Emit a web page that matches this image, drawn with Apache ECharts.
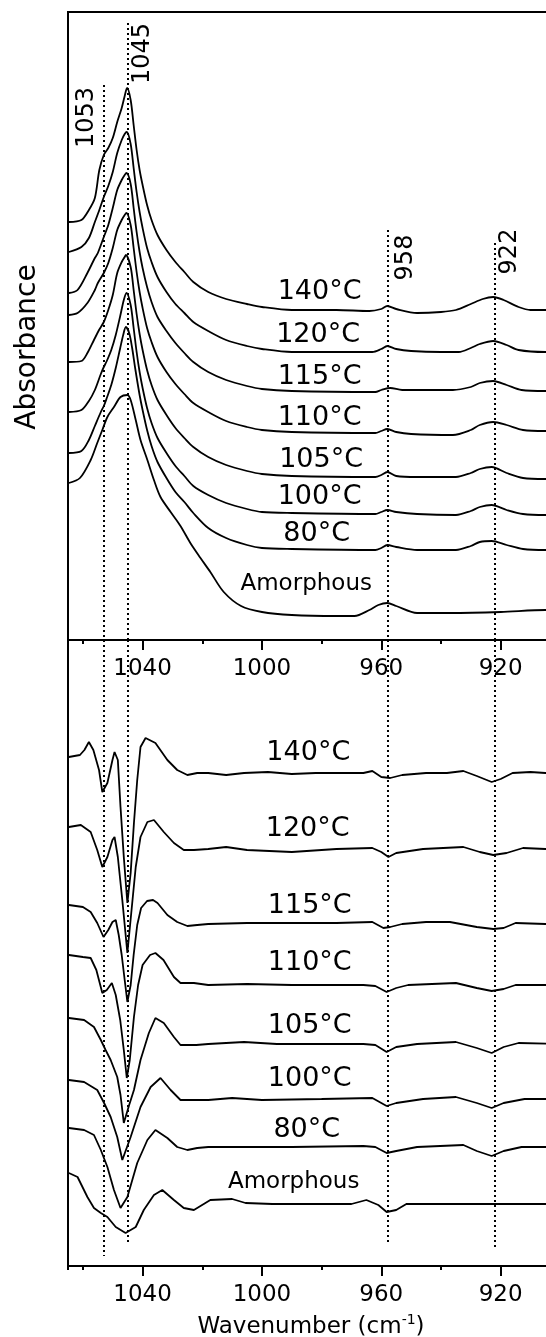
<!DOCTYPE html>
<html>
<head>
<meta charset="utf-8">
<script src="https://cdn.jsdelivr.net/npm/echarts/dist/echarts.min.js"></script>
<style>
  html, body { margin: 0; padding: 0; background: #fff; }
  #chart { width: 546px; height: 1337px; }
</style>
</head>
<body>
<div id="chart"></div>
<script>
// sample names, top to bottom
const sampleNames = ['140°C', '120°C', '115°C', '110°C', '105°C', '100°C', '80°C', 'Amorphous'];
// labelled band positions (cm-1) and x tick labels
const bandPositions = [1053, 1045, 958, 922];
const wavenumberTicks = [1040, 1000, 960, 920];

// absorbance spectra, offset (a.u. x100), [wavenumber, value]
const abs140 = [[1064.7,418],[1060.5,420],[1058,430],[1056,442],[1054.5,470],[1053,485],[1051.5,492],[1050,502],[1048.5,518],[1047,532],[1046,544],[1045.2,552],[1044,540],[1043,515],[1042,490],[1041,470],[1040,455],[1038.5,435],[1037,420],[1035,405],[1032,390],[1029,378],[1026,368],[1023,358],[1018,348],[1012,341],[1005,336],[1000,333],[990,330],[975,330],[964,329],[960,331],[958,334],[955,331],[948,327],[940,328],[935,330],[930,336],[926,341],[922.5,343],[919,340],[914,333],[910,330],[900,330]];
const abs120 = [[1064.7,388],[1060.5,393],[1058,402],[1056,418],[1054.5,430],[1053,443],[1051.5,454],[1050,468],[1048.5,487],[1047,500],[1046,506],[1045.3,508],[1044,496],[1043,472],[1042,448],[1041,428],[1040,412],[1038.5,392],[1037,378],[1035,363],[1032,348],[1029,336],[1026,327],[1023,318],[1018,309],[1012,300],[1005,294],[1000,291],[990,288],[975,288],[963,288],[960,291],[958,294],[955,291],[950,289],[940,288],[934,288],[930,292],[927,296],[922.5,299],[918,295],[914,290],[905,288],[900,288]];
const abs115 = [[1064.7,347],[1061.8,350],[1058.5,367],[1056,382],[1055,387],[1053,403],[1051.5,415],[1050,432],[1048.5,450],[1047,460],[1046,465],[1045.4,467],[1044,456],[1043,432],[1042,408],[1041,388],[1040,372],[1038.5,353],[1037,338],[1035,323],[1032,309],[1029,297],[1026,287],[1023,278],[1018,268],[1012,260],[1005,254],[1000,251],[990,249],[962,248],[960,250],[957,252],[953,250],[945,250],[936,250],[930,253],[927,257],[922.5,259],[918,255],[913,250],[905,249],[900,249]];
const abs110 = [[1064.7,325],[1061.8,327],[1058.5,337],[1056,350],[1055,357],[1053,367],[1051.5,377],[1050,392],[1048.5,410],[1047,420],[1046,425],[1045.4,427],[1044,415],[1043,392],[1042,368],[1041,348],[1040,332],[1038.5,312],[1037,298],[1035,283],[1032,268],[1029,256],[1026,246],[1023,237],[1018,228],[1012,219],[1005,213],[1000,210],[990,208],[962,207],[960,209],[958,211],[955,208],[950,206],[936,205],[930,210],[927,215],[922.5,218],[918,215],[912.5,210],[905,209],[900,209]];
const abs105 = [[1064.7,278],[1060.5,279],[1058.5,287],[1056.3,300],[1054.6,310],[1053,318],[1051.5,330],[1050,345],[1048.5,367],[1047,378],[1046,383],[1045.6,385],[1044,373],[1043,350],[1042,326],[1041,306],[1040,290],[1038.5,270],[1037,255],[1035,240],[1032,225],[1029,212],[1026,202],[1023,193],[1018,183],[1012,175],[1005,169],[1000,166],[990,164],[962,163],[960,165],[958,168],[955,164],[948,163],[935,163],[930,167],[927,171],[923,173],[918,167],[912.5,162],[905,161],[900,161]];
const abs100 = [[1064.7,228],[1060.5,230],[1058,239],[1056,250],[1054,266],[1053,273],[1052,279],[1050.5,290],[1049,305],[1047.5,324],[1046.3,340],[1045.4,347],[1044,335],[1043,312],[1042,288],[1041,268],[1040,252],[1038.5,232],[1037,217],[1035,202],[1032,187],[1029,174],[1026,164],[1023,154],[1018,145],[1012,137],[1005,131],[1000,128],[990,127],[962,126],[960,128],[958,130],[955,128],[948,126],[935,125],[930,129],[927,133],[923,135],[918,130],[912.5,126],[905,125],[900,125]];
const abs80 = [[1064.7,187],[1060.5,189],[1058,200],[1056,214],[1054,228],[1053,234],[1052,242],[1050.5,255],[1049,272],[1047.5,292],[1046.5,305],[1045.6,313],[1044.5,307],[1043.5,292],[1042.5,272],[1041,245],[1040,230],[1038.5,210],[1037,194],[1035,178],[1032,162],[1029,148],[1026,138],[1023,127],[1018,112],[1012,102],[1005,95],[1000,92],[990,91],[962,90],[960,92],[958,95],[955,93],[948,90],[935,90],[930,94],[927,98],[923,99],[918,95],[912.5,91],[905,90],[900,90]];
const absAmorph = [[1064.7,157],[1061,162],[1057.4,180],[1055.2,197],[1053.5,210],[1051.8,223],[1049.6,233],[1047.4,243],[1045.1,245],[1044,240],[1042.3,220],[1040.7,200],[1038.4,180],[1036.2,160],[1034,143],[1030.6,128],[1027.3,114],[1024,97],[1020.6,82],[1017.3,68],[1012.8,48],[1007,34],[1000,28],[990,25],[975,24],[969,24],[964,30],[961,35],[958,37],[955,34],[948,27],[937,27],[920,28],[905,30],[900,30]];

// second-derivative spectra, offset (a.u. x100)
const d2_140 = [[1064.7,509],[1061,511],[1059.5,516],[1058,524],[1056.5,516],[1054.6,496],[1053.5,474],[1051.8,483],[1050.1,506],[1049.4,514],[1048.3,506],[1047.4,459],[1046.3,409],[1045.1,363],[1044,393],[1042.9,443],[1041.8,486],[1040.7,519],[1039,528],[1035.7,523],[1031.7,506],[1028.4,496],[1025,491],[1021.7,493],[1018,493],[1012,491],[1006,493],[998,494],[990,492],[982,493],[975,493],[966,493],[963,495],[960,489],[957,488],[953,491],[945,493],[938,493],[932.5,495],[928,490],[923,484],[920,487],[916,493],[910,494],[905,493],[900,493]];
const d2_120 = [[1064.7,439],[1060.7,441],[1057.4,434],[1055.2,416],[1053.5,399],[1051.8,409],[1050.1,426],[1049.4,429],[1048.3,409],[1046.8,366],[1045.1,313],[1043.8,353],[1042.3,399],[1040.7,429],[1038.4,444],[1036.2,446],[1032.9,434],[1029.5,423],[1026.2,416],[1022.8,416],[1018,417],[1012,419],[1005,416],[990,414],[975,417],[963,418],[960,414],[957.6,409],[955,413],[946,417],[932.5,419],[927,414],[922.5,411],[918,413],[912.5,418],[905,417],[900,417]];
const d2_115 = [[1064.7,361],[1060,359],[1057.4,354],[1055.2,343],[1053.1,329],[1051.5,336],[1050.1,344],[1049,346],[1048,331],[1047,311],[1046,286],[1045.1,264],[1044,281],[1043,311],[1041.8,341],[1040.5,358],[1038.5,365],[1036.5,366],[1035,363],[1031.7,351],[1028.4,344],[1025,340],[1021.7,341],[1018,342],[1005,343],[990,343],[975,343],[963,344],[959.3,338],[957,339],[953,342],[945,344],[937,344],[928,339],[922.5,337],[919,338],[915,343],[905,342],[900,342]];
const d2_110 = [[1064.7,311],[1060,309],[1057.4,308],[1055.5,296],[1053.5,273],[1052,276],[1050.3,283],[1049,271],[1047.5,246],[1046.3,216],[1045.3,188],[1044.3,206],[1042.9,249],[1041.5,281],[1040,301],[1037.5,311],[1035.7,313],[1033,306],[1029.5,289],[1027.3,283],[1022.8,283],[1018,281],[1005,282],[990,281],[966,281],[962,280],[958.2,274],[955,278],[951,281],[935,283],[928,278],[923,275],[919,277],[915,281],[900,281]];
const d2_105 = [[1064.7,248],[1059.6,246],[1056.3,239],[1054,226],[1052.4,216],[1050.7,206],[1048.5,189],[1047.4,171],[1046.3,143],[1044.5,161],[1042.9,176],[1040.7,206],[1037.9,233],[1035.7,248],[1032.9,243],[1029.5,229],[1027.3,221],[1022,221],[1018,222],[1006,224],[995,222],[966,222],[962,221],[958.2,214],[955,219],[948,222],[935,224],[928,218],[923,213],[919,219],[914,223],[900,222]];
const d2_100 = [[1064.7,186],[1059.6,184],[1055.2,176],[1052.9,163],[1050.7,149],[1048.5,129],[1046.8,106],[1044,129],[1040.7,159],[1037.3,179],[1034,188],[1030.6,176],[1027.3,166],[1022,166],[1018,166],[1010,168],[1000,166],[980,167],[963,168],[958.2,160],[955,163],[946,167],[935,169],[928,163],[923,158],[919,163],[912,167],[900,167]];
const d2_80 = [[1064.7,138],[1059.6,136],[1056.3,131],[1054,116],[1051.8,99],[1049.6,76],[1047.4,58],[1045.1,69],[1041.8,103],[1038.4,126],[1035.7,136],[1031.7,128],[1028.4,119],[1025,116],[1021.7,118],[1018,119],[1005,119],[990,119],[966,120],[962,119],[958.2,113],[955,115],[948,119],[932.5,121],[928,115],[923,110],[919,115],[913,119],[900,119]];
const d2_amorph = [[1064.7,93],[1061.8,89],[1058.5,69],[1056.3,58],[1054,53],[1051.8,49],[1049,39],[1045.7,33],[1042.3,39],[1039.6,56],[1036.2,71],[1033.4,76],[1029.5,66],[1026.2,58],[1022.8,56],[1017.3,66],[1010,67],[1005.5,63],[996.5,62],[970,62],[965,66],[961,61],[958.2,54],[955,56],[951.6,62],[930,62],[900,62]];

const absSpectra = [abs140, abs120, abs115, abs110, abs105, abs100, abs80, absAmorph];
const d2Spectra = [d2_140, d2_120, d2_115, d2_110, d2_105, d2_100, d2_80, d2_amorph];

// layout (where labels sit, in axis units)
const FONT = "'DejaVu Sans', sans-serif";
const INK = '#000';
const absLabelAt = [[980.5,348],[981,305],[980.5,263],[980.5,222],[980,180],[980.5,143],[981.5,106],[985,55]];
const d2LabelAt = [[984.3,513],[984.5,437],[983.8,360],[983.8,303],[983.8,240],[983.8,187],[984.8,136],[989.2,83]];
const bandLabelAt = [[1058.6,522],[1039.8,586],[951.7,382],[916.7,388]];
const bandTopAbs = [555, 617, 410, 397];   // where the dotted guides start in the upper panel
const bandEndD2 = [10, 24, 21, 19];        // where they stop in the lower panel

const chart = echarts.init(document.getElementById('chart'), null, { renderer: 'canvas' });

function majorAxis(gi) {
  return {
    type: 'value', gridIndex: gi, position: 'bottom', inverse: true, min: 880, max: 1065, interval: 40,
    axisLine: { show: false }, splitLine: { show: false },
    axisTick: { show: true, length: 10, lineStyle: { color: INK, width: 2 } },
    axisLabel: {
      show: true, margin: 18, fontSize: 23, fontFamily: FONT, color: INK,
      showMinLabel: false, showMaxLabel: false, hideOverlap: false,
      formatter: v => wavenumberTicks.includes(v) ? String(v) : ''
    }
  };
}
function minorAxis(gi) {
  return {
    type: 'value', gridIndex: gi, position: 'bottom', inverse: true, min: 880, max: 1065, interval: 20,
    axisLine: { show: false }, splitLine: { show: false }, axisLabel: { show: false },
    axisTick: { show: true, length: 4, lineStyle: { color: INK, width: 2 } }
  };
}

function curve(data, gi) {
  return {
    type: 'line', xAxisIndex: gi * 2, yAxisIndex: gi, data: data,
    symbol: 'none', smooth: gi === 0 ? 0.3 : false, silent: true,
    lineStyle: { color: INK, width: 1.8 }
  };
}

// text anchored at a data point, centred on it
const centred = { show: true, position: [0, 0], align: 'center', verticalAlign: 'middle', fontFamily: FONT, color: INK };
// scatter defaults to 0.8 opacity, which greys the labels: keep them solid
const hiddenPoint = { color: 'rgba(0,0,0,0)', opacity: 1 };

function nameLabels(at, gi) {
  return {
    type: 'scatter', xAxisIndex: gi * 2, yAxisIndex: gi, symbolSize: 1, silent: true,
    itemStyle: hiddenPoint,
    data: sampleNames.map((n, i) => ({
      name: n, value: at[i],
      label: { fontSize: n === 'Amorphous' ? 23 : 27 }
    })),
    label: Object.assign({ formatter: '{b}' }, centred)
  };
}

const guideStyle = { type: [2, 3], color: '#000', width: 2, opacity: 1 };

const series = [];
absSpectra.forEach(d => series.push(curve(d, 0)));
d2Spectra.forEach(d => series.push(curve(d, 1)));
series.push(Object.assign(nameLabels(absLabelAt, 0), {
  markLine: {
    silent: true, symbol: ['none', 'none'], label: { show: false }, lineStyle: guideStyle,
    data: bandPositions.map((b, i) => [{ coord: [b, bandTopAbs[i]] }, { coord: [b, 0] }])
  }
}));
series.push(Object.assign(nameLabels(d2LabelAt, 1), {
  markLine: {
    silent: true, symbol: ['none', 'none'], label: { show: false }, lineStyle: guideStyle,
    data: bandPositions.map((b, i) => [{ coord: [b, 626] }, { coord: [b, bandEndD2[i]] }])
  }
}));
// rotated band labels
series.push({
  type: 'scatter', xAxisIndex: 0, yAxisIndex: 0, symbolSize: 1, silent: true,
  itemStyle: hiddenPoint,
  data: bandPositions.map((b, i) => ({ name: String(b), value: bandLabelAt[i] })),
  label: Object.assign({ formatter: '{b}', rotate: 90, fontSize: 24 }, centred)
});

chart.setOption({
  animation: false,
  backgroundColor: '#fff',
  grid: [
    { left: 68, top: 12, width: 552, height: 628, show: true, borderColor: INK, borderWidth: 2, outerBoundsMode: 'none', containLabel: false },
    { left: 68, top: 640, width: 552, height: 626, show: true, borderColor: INK, borderWidth: 2, outerBoundsMode: 'none', containLabel: false }
  ],
  xAxis: [majorAxis(0), minorAxis(0), majorAxis(1), minorAxis(1)],
  yAxis: [
    { type: 'value', gridIndex: 0, min: 0, max: 628, show: false },
    { type: 'value', gridIndex: 1, min: 0, max: 626, show: false }
  ],
  graphic: [
    {
      type: 'text', x: 28, y: 347, rotation: Math.PI / 2,
      style: { text: 'Absorbance', font: "28px 'DejaVu Sans'", fill: INK, textAlign: 'center', textVerticalAlign: 'middle' }
    },
    {
      type: 'text', x: 311, y: 1326,
      style: {
        text: '{a|Wavenumber (cm}{s|-1}{a|)}', textAlign: 'center', textVerticalAlign: 'middle',
        rich: {
          a: { fontSize: 23, fontFamily: FONT, color: INK, lineHeight: 26, verticalAlign: 'bottom' },
          s: { fontSize: 14, fontFamily: FONT, color: INK, lineHeight: 26, verticalAlign: 'top' }
        }
      }
    }
  ],
  series: series
});
</script>
</body>
</html>
